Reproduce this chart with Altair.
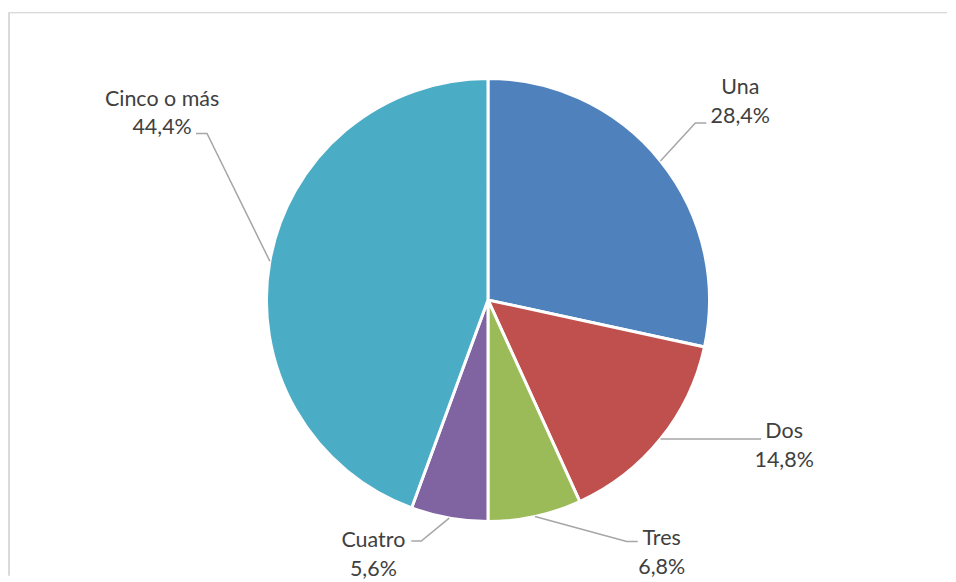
import math
import altair as alt
import pandas as pd

# ---- data ----
categories = ["Una", "Dos", "Tres", "Cuatro", "Cinco o más"]
values = [28.4, 14.8, 6.8, 5.6, 44.4]
labels = ["28,4%", "14,8%", "6,8%", "5,6%", "44,4%"]
colors = ["#4F81BD", "#C0504D", "#9BBB59", "#8064A2", "#4BACC6"]

# ---- layout (pixels inside the view) ----
W, H = 940, 568
CX, CY, R = 480, 292, 222
# offsets from the leader start point on the rim: elbow, end, name-label centre
label_layout = {
    "Una": dict(elbow=(35, -38), end=(46, -38), name=(80, -73)),
    "Dos": dict(elbow=(0, 0), end=(101, 0), name=(124, -7)),
    "Tres": dict(elbow=(92, 25), end=(103, 25), name=(127, 23)),
    "Cuatro": dict(elbow=(-28, 23), end=(-38, 23), name=(-76, 23)),
    "Cinco o más": dict(elbow=(-63, -128), end=(-74, -128), name=(-108, -162)),
}
LINE_GAP = 29

df = pd.DataFrame({"cat": categories, "val": values, "lab": labels,
                   "idx": list(range(len(categories)))})

total = sum(values)
cum = 0.0
line_rows, text_rows = [], []
for c, v, l in zip(categories, values, labels):
    mid = (cum + v / 2) / total * 2 * math.pi
    cum += v
    sx = CX + R * math.sin(mid)
    sy = CY - R * math.cos(mid)
    lay = label_layout[c]
    pts = [(sx, sy), (sx + lay["elbow"][0], sy + lay["elbow"][1]),
           (sx + lay["end"][0], sy + lay["end"][1])]
    for i, (px, py) in enumerate(pts):
        line_rows.append({"cat": c, "o": i, "px": px, "py": py})
    nx, ny = sx + lay["name"][0], sy + lay["name"][1]
    text_rows.append({"t": c, "px": nx, "py": ny})
    text_rows.append({"t": l, "px": nx, "py": ny + LINE_GAP})

lines_df = pd.DataFrame(line_rows)
text_df = pd.DataFrame(text_rows)

pie = alt.Chart(df).mark_arc(radius=R, stroke="white", strokeWidth=3).encode(
    theta=alt.Theta("val:Q", stack=True),
    order=alt.Order("idx:Q"),
    color=alt.Color("cat:N", scale=alt.Scale(domain=categories, range=colors), legend=None),
    x=alt.value(CX),
    y=alt.value(CY),
)

leaders = alt.Chart(lines_df).mark_line(color="#A6A6A6", strokeWidth=1.5).encode(
    x=alt.X("px:Q", scale=None),
    y=alt.Y("py:Q", scale=None),
    detail="cat:N",
    order="o:Q",
)

texts = alt.Chart(text_df).mark_text(
    font="Lato", fontSize=21.5, color="#404040", align="center", baseline="middle"
).encode(
    x=alt.X("px:Q", scale=None),
    y=alt.Y("py:Q", scale=None),
    text="t:N",
)

border_top = alt.Chart(df).mark_rule(color="#D9D9D9", strokeWidth=1).encode(
    x=alt.value(0), x2=alt.value(W), y=alt.value(4)
)
border_left = alt.Chart(df).mark_rule(color="#D9D9D9", strokeWidth=1).encode(
    x=alt.value(0), y=alt.value(4), y2=alt.value(H)
)

chart = alt.layer(border_top, border_left, pie, leaders, texts).properties(
    width=W, height=H, padding={"left": 0, "top": 0, "right": 0, "bottom": 0}
).configure_view(stroke=None)

chart.save("out.html", embed_options={"renderer": "svg", "actions": False})
